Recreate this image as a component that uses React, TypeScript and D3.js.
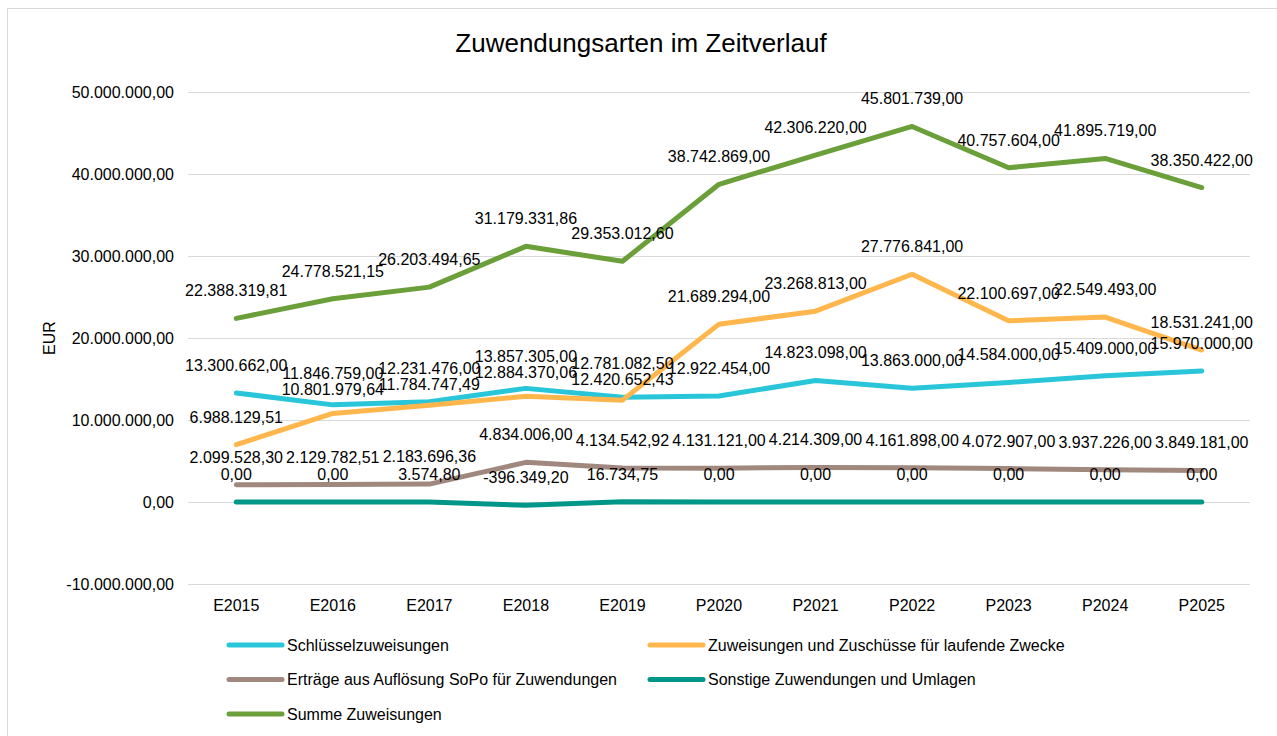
import React, { useEffect } from "react";
import * as d3 from "d3";

const categories = ["E2015", "E2016", "E2017", "E2018", "E2019", "P2020", "P2021", "P2022", "P2023", "P2024", "P2025"];

const schluessel = [13300662.0, 11846759.0, 12231476.0, 13857305.0, 12781082.5, 12922454.0, 14823098.0, 13863000.0, 14584000.0, 15409000.0, 15970000.0];
const zuschuesse = [6988129.51, 10801979.64, 11784747.49, 12884370.06, 12420652.43, 21689294.0, 23268813.0, 27776841.0, 22100697.0, 22549493.0, 18531241.0];
const sopo = [2099528.3, 2129782.51, 2183696.36, 4834006.0, 4134542.92, 4131121.0, 4214309.0, 4161898.0, 4072907.0, 3937226.0, 3849181.0];
const sonstige = [0, 0, 3574.8, -396349.2, 16734.75, 0, 0, 0, 0, 0, 0];
const summe = [22388319.81, 24778521.15, 26203494.65, 31179331.86, 29353012.6, 38742869.0, 42306220.0, 45801739.0, 40757604.0, 41895719.0, 38350422.0];

const seriesNames = [
  "Schlüsselzuweisungen",
  "Zuweisungen und Zuschüsse für laufende Zwecke",
  "Erträge aus Auflösung SoPo für Zuwendungen",
  "Sonstige Zuwendungen und Umlagen",
  "Summe Zuweisungen",
];
const seriesValues = [schluessel, zuschuesse, sopo, sonstige, summe];
const seriesColors = ["#29C5D9", "#FFB74D", "#A1887F", "#009688", "#6A9F3A"];

const yTicks = [-10000000, 0, 10000000, 20000000, 30000000, 40000000, 50000000];

const title = "Zuwendungsarten im Zeitverlauf";
const yAxisTitle = "EUR";

const W = 1277;
const H = 736;
const FONT = "'Liberation Sans', Arial, sans-serif";

const locale = d3.formatLocale({ decimal: ",", thousands: ".", grouping: [3], currency: ["", " €"], minus: "-" });
const fmt = locale.format(",.2f");

export default function App() {
  useEffect(() => {
    document.body.style.margin = "0";
  }, []);

  const x = d3.scaleBand<string>().domain(categories).range([188, 1250]).padding(0);
  const y = d3.scaleLinear().domain([-10000000, 50000000]).range([584, 92]);
  const cx = (c: string) => (x(c) as number) + x.bandwidth() / 2;

  const line = d3
    .line<number>()
    .x((_, i) => cx(categories[i]))
    .y((v) => y(v));

  // label baselines, with a simple per-category de-overlap
  const minGap = 16;
  const labelY: number[][] = seriesValues.map((vals) => vals.map((v) => y(v) - 22));
  categories.forEach((_, i) => {
    const items = seriesValues.map((_, si) => ({ si, yy: labelY[si][i] })).sort((a, b) => a.yy - b.yy);
    for (let k = 0; k < items.length - 1; k++) {
      const a = items[k];
      const b = items[k + 1];
      if (b.yy - a.yy < minGap) {
        const mid = (a.yy + b.yy) / 2;
        a.yy = mid - minGap / 2;
        b.yy = mid + minGap / 2;
      }
    }
    items.forEach((it) => (labelY[it.si][i] = it.yy));
  });

  const legendPos = [
    { lx: 229, ly: 645 },
    { lx: 650, ly: 645 },
    { lx: 229, ly: 679.5 },
    { lx: 650, ly: 679.5 },
    { lx: 229, ly: 714 },
  ];

  return (
    <svg width={W} height={H} style={{ display: "block", background: "#fff" }} fontFamily={FONT}>
      <rect x={7.5} y={8.5} width={1290} height={760} fill="#fff" stroke="#D9D9D9" strokeWidth={1} />
      <text x={641} y={52} textAnchor="middle" fontSize={26} fill="#000">
        {title}
      </text>
      {yTicks.map((t) => (
        <g key={t}>
          <line x1={188} x2={1250} y1={Math.round(y(t)) + 0.5} y2={Math.round(y(t)) + 0.5} stroke="#D9D9D9" strokeWidth={1} />
          <text x={174} y={y(t)} dy="0.36em" textAnchor="end" fontSize={16} fill="#000">
            {fmt(t)}
          </text>
        </g>
      ))}
      <text transform={`translate(55,338) rotate(-90)`} textAnchor="middle" fontSize={16} fill="#000">
        {yAxisTitle}
      </text>
      {categories.map((c) => (
        <text key={c} x={cx(c)} y={611} textAnchor="middle" fontSize={16} fill="#000">
          {c}
        </text>
      ))}
      {seriesValues.map((vals, si) => (
        <path
          key={si}
          d={line(vals) || ""}
          fill="none"
          stroke={seriesColors[si]}
          strokeWidth={5}
          strokeLinecap="round"
          strokeLinejoin="round"
        />
      ))}
      {seriesValues.map((vals, si) => (
        <g key={"l" + si}>
          {vals.map((v, i) => (
            <text key={i} x={cx(categories[i])} y={labelY[si][i]} textAnchor="middle" fontSize={16} fill="#000">
              {fmt(v)}
            </text>
          ))}
        </g>
      ))}
      {seriesNames.map((n, si) => (
        <g key={"lg" + si}>
          <line
            x1={legendPos[si].lx}
            x2={legendPos[si].lx + 53}
            y1={legendPos[si].ly}
            y2={legendPos[si].ly}
            stroke={seriesColors[si]}
            strokeWidth={5}
            strokeLinecap="round"
          />
          <text x={legendPos[si].lx + 58} y={legendPos[si].ly} dy="0.36em" fontSize={16} fill="#000">
            {n}
          </text>
        </g>
      ))}
    </svg>
  );
}
